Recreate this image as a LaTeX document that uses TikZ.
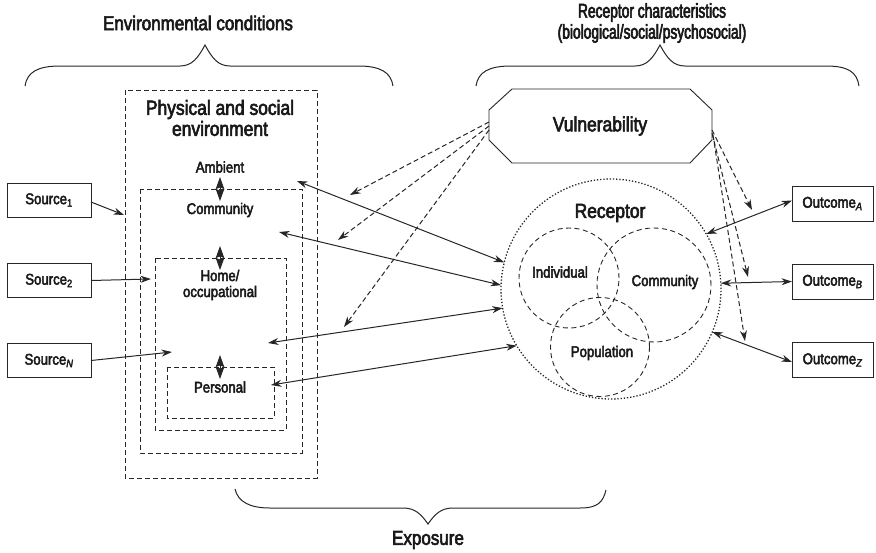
\documentclass[tikz,border=0pt]{standalone}
\usepackage{fontspec}
\setmainfont{Liberation Sans}[FakeStretch=0.85,FakeBold=3]
\newfontfamily\narrowhead{Liberation Sans}[FakeStretch=0.69,FakeBold=3]
\usetikzlibrary{arrows.meta,calc}
\begin{document}
\begin{tikzpicture}[x=1pt,y=-1pt,
  every node/.style={inner sep=0pt, outer sep=0pt, text=black!90},
  line/.style={draw=black!85, line width=0.9pt},
  bigtext/.style={font=\fontsize{20.5}{21}\selectfont, align=center},
  headtext/.style={font=\fontsize{20}{21}\selectfont, align=center},
  sidehead/.style={font=\narrowhead\fontsize{20}{21}\selectfont, align=center},
  smalltext/.style={font=\fontsize{15.5}{16}\selectfont, align=center},
  labelbox/.style={line, minimum height=34pt, font=\fontsize{15.5}{16}\selectfont},
  envbox/.style={line, dash pattern=on 5pt off 3pt},
  setcircle/.style={circle, line, dash pattern=on 5pt off 3.5pt},
  tipA/.style={-{Stealth[length=10.5pt,width=7pt]}},
  tipAB/.style={{Stealth[length=10.5pt,width=7pt]}-{Stealth[length=10.5pt,width=7pt]}},
  conn/.style={line, line width=1pt, tipA},
  twoway/.style={line, line width=1pt, tipAB},
  influence/.style={line, line width=1pt, dash pattern=on 5pt off 3pt, tipA},
  nest/.style={line, line width=1pt, {Stealth[length=12pt,width=8.5pt,inset=1.5pt]}-{Stealth[length=12pt,width=8.5pt,inset=1.5pt]}},
  brace/.style={line, line width=1pt},
]
\useasboundingbox (0,0) rectangle (876,552);

% ---- headings and braces ----
\node[headtext] (envhead) at (198,23) {Environmental conditions};
\node[sidehead] (rechead) at (652,23) {Receptor characteristics\\(biological/social/psychosocial)};
\node[headtext] (exphead) at (428,540) {Exposure};

\draw[brace] (25,86) .. controls (27,72) and (38,66) .. (60,66)
  -- (180,66) .. controls (192,66) and (198,58) .. (205,45)
  .. controls (212,58) and (218,66) .. (230,66)
  -- (358,66) .. controls (380,66) and (391,72) .. (393,86);
\draw[brace] (476,86) .. controls (478,72) and (489,66) .. (511,66)
  -- (635,66) .. controls (647,66) and (653,58) .. (660,45)
  .. controls (667,58) and (673,66) .. (685,66)
  -- (826,66) .. controls (848,66) and (857,72) .. (859,86);
\draw[brace] (235,489) .. controls (238,502) and (250,508) .. (270,508)
  -- (403,508) .. controls (415,508) and (421,514) .. (428,524)
  .. controls (435,514) and (441,508) .. (453,508)
  -- (580,508) .. controls (598,508) and (603,502) .. (606,490);

% ---- nested environments ----
\draw[envbox] (125,90) rectangle (317,478);
\draw[envbox] (140,189) rectangle (302,453);
\draw[envbox] (155,258) rectangle (286,430);
\draw[envbox] (167,367) rectangle (274,418);

\node[bigtext] (phys) at (220,118) {Physical and social\\environment};
\node[smalltext] (amb) at (220,167) {Ambient};
\node[smalltext] (comm) at (220,210) {Community};
\node[smalltext] (home) at (220,285) {Home/\\occupational};
\node[smalltext] (pers) at (220,387) {Personal};

\draw[nest] (220,177) -- (220,201);
\draw[nest] (220,246) -- (220,270);
\draw[nest] (220,355) -- (220,379);

% ---- sources ----
\node[labelbox, minimum width=84pt] (s1) at (49,200) {Source\textsubscript{1}};
\node[labelbox, minimum width=84pt] (s2) at (49,280.5) {Source\textsubscript{2}};
\node[labelbox, minimum width=84pt] (sn) at (49,360.5) {Source\textsubscript{\itshape N}};

\coordinate (in1) at (124,215);
\coordinate (in2) at (151,279);
\coordinate (inN) at (172,352);
\draw[conn] ($(s1.east)+(0,2)$) -- (in1);
\draw[conn] (s2.east) -- (in2);
\draw[conn] (sn.east) -- (inN);

% ---- receptor ----
\node[circle, line, line width=1.3pt, dash pattern=on 1.3pt off 1.9pt, minimum size=220pt] (rec) at (611,289) {};
\node[bigtext] (reclab) at (610,213) {Receptor};
\node[setcircle, minimum size=100pt] (ind) at (569,278) {};
\node[setcircle, minimum size=114pt] (rcom) at (654,285) {};
\node[setcircle, minimum size=99pt] (pop) at (600,347) {};
\node[smalltext] (indlab) at (560,272) {Individual};
\node[smalltext] (comlab) at (665,282) {Community};
\node[smalltext] (poplab) at (602,353) {Population};

% ---- exposure pathways ----
\coordinate (eAmb) at (297,181);
\coordinate (eCom) at (279,232);
\coordinate (eHome) at (268,343);
\coordinate (ePers) at (271,385);
\draw[twoway] (eAmb) -- (rec.166);
\draw[twoway] (eCom) -- (rec.178);
\draw[twoway] (eHome) -- (rec.190);
\draw[twoway] (ePers) -- (rec.211);

% ---- vulnerability ----
\draw[line] (512,89) -- (690,89) -- (712,110) -- (712,140) -- (690,163)
  -- (512,163) -- (489,140) -- (489,110) -- cycle;
\node[bigtext] (vul) at (600,126) {Vulnerability};
\coordinate (vulL) at (489,122);
\coordinate (vulR) at (712,130);

\coordinate (vAmb) at (350,195);
\coordinate (vCom) at (338,240);
\coordinate (vHome) at (344,327);
\draw[influence] (vulL) -- (vAmb);
\draw[influence] ($(vulL)+(0,4)$) -- (vCom);
\draw[influence] ($(vulL)+(0,8)$) -- (vHome);

% ---- outcomes ----
\node[labelbox, minimum width=81pt, minimum height=35pt] (oa) at (832.5,203.5) {Outcome\textsubscript{\itshape A}};
\node[labelbox, minimum width=81pt, minimum height=35pt] (ob) at (832.5,281.5) {Outcome\textsubscript{\itshape B}};
\node[labelbox, minimum width=81pt, minimum height=35pt] (oz) at (832.5,360) {Outcome\textsubscript{\itshape Z}};

\coordinate (vA) at (752,210);
\coordinate (vB) at (748,277);
\coordinate (vZ) at (745,341);
\draw[influence] (vulR) -- (vA);
\draw[influence] ($(vulR)+(0,3)$) -- (vB);
\draw[influence] ($(vulR)+(1,5)$) -- (vZ);

\draw[twoway] (rec.30) -- ($(oa.west)+(0,-3)$);
\draw[twoway] (rec.3) -- (ob.west);
\draw[twoway] (rec.-23) -- ($(oz.west)+(0,2)$);
\end{tikzpicture}
\end{document}
